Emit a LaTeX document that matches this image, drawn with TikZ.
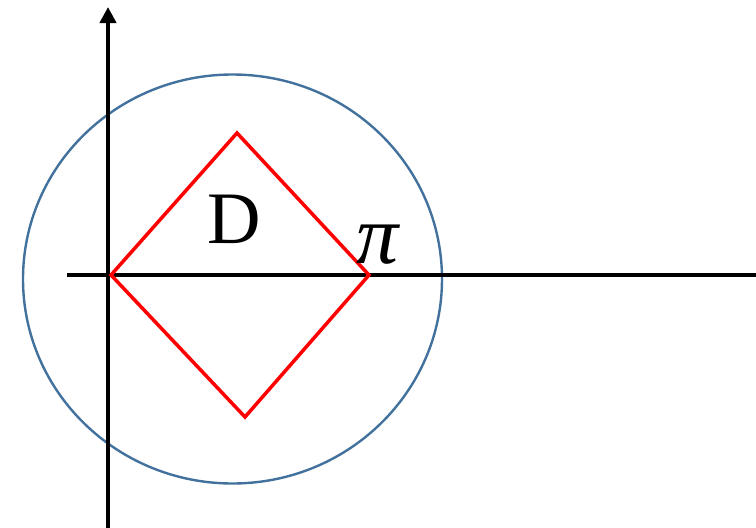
\documentclass[tikz,border=0pt]{standalone}
\usepackage{fontspec}
\setmainfont{Liberation Serif}
\usetikzlibrary{arrows.meta}
\definecolor{circblue}{HTML}{41719C}
\tikzset{
  axis/.style={line width=4.5pt, black},
  circ/.style={line width=2.4pt, circblue},
  region/.style={line width=3.5pt, red, line join=miter},
  lbl/.style={inner sep=0pt, font=\fontsize{74}{74}\selectfont},
  pilbl/.style={inner sep=0pt, font=\fontsize{84}{84}\selectfont\itshape}
}
\begin{document}
\begin{tikzpicture}[x=1pt,y=-1pt]
\useasboundingbox (0,0) rectangle (756,528);
\draw[circ] (232.5,279) ellipse [x radius=209.5, y radius=204.5];
\coordinate (xs) at (67,275);
\coordinate (xe) at (756,275);
\coordinate (ys) at (108,528);
\coordinate (ye) at (108,7);
\draw[axis] (xs) -- (xe);
\draw[axis, -{Triangle[length=16pt,width=16pt]}] (ys) -- (ye);
\coordinate (L) at (111,275);
\coordinate (T) at (237,133);
\coordinate (R) at (369,275);
\coordinate (B) at (245,417);
\draw[region] (L) -- (T) -- (R) -- (B) -- cycle;
\node[lbl] (D) at (234,219.5) {D};
\node[pilbl] (pi) at (378,244.5) {π};
\end{tikzpicture}
\end{document}
